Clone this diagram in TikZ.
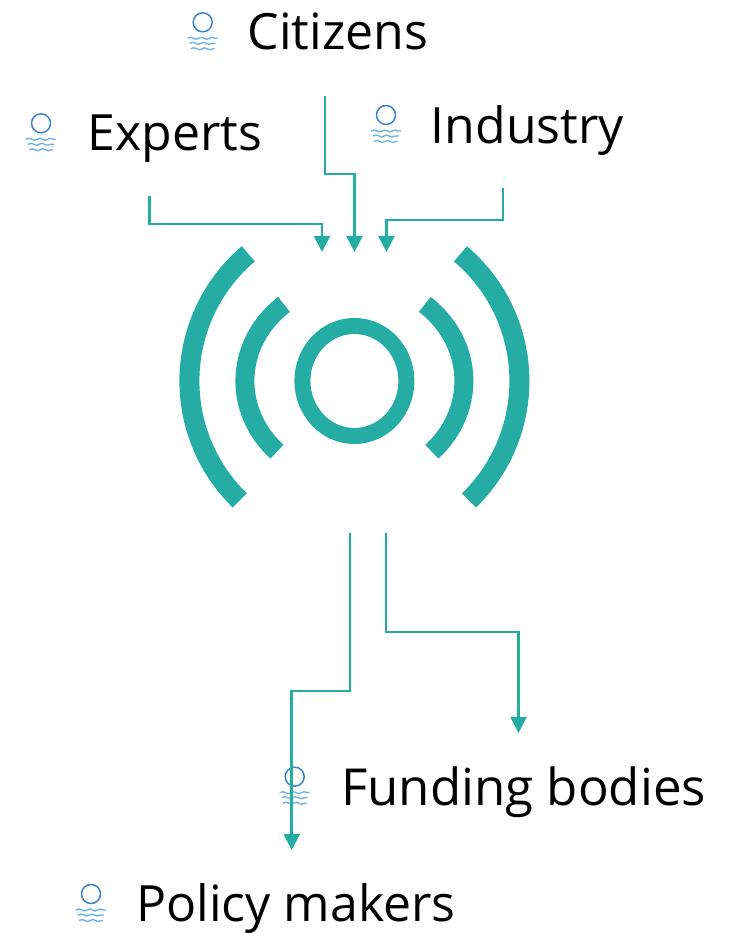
\documentclass[tikz,border=0pt]{standalone}
\usepackage{fontspec}
\setmainfont{Open Sans}
\usetikzlibrary{arrows.meta,decorations.pathmorphing}
\definecolor{teal1}{HTML}{24ACA5}
\definecolor{ringblue}{HTML}{3C85C6}
\definecolor{waveblue}{HTML}{6FB5E6}
\tikzset{
    flow/.style={teal1, line width=2.5pt, -{Triangle[length=16pt,width=16pt]}},
    wave/.style={waveblue, line width=1.4pt, decorate, decoration={snake, segment length=10.5pt, amplitude=1pt}},
    label text/.style={anchor=base west, inner sep=0pt, font=\fontsize{50}{56}\selectfont},
    sunicon/.pic={
        \draw[ringblue, line width=1.5pt] (0,0) circle (9.5pt);
        \draw[wave] (-15,-16) -- (15,-16);
        \draw[wave] (-13,-21) -- (13,-21);
        \draw[wave] (-12,-26.5) -- (12,-26.5);
    }
}
\begin{document}
\begin{tikzpicture}[x=1pt, y=1pt]
    \useasboundingbox (0,0) rectangle (733,933);

    \pic at (202.7,910.7) {sunicon};
    \pic at (41,809.7) {sunicon};
    \pic at (386,818) {sunicon};
    \pic at (294.7,156.3) {sunicon};
    \pic at (91,39) {sunicon};

    \node (citizens)[label text] at (247.5,883) {Citizens};
    \node (experts)[label text] at (87.5,782) {Experts};
    \node (industry)[label text] at (430.5,789) {Industry};
    \node (funding)[label text, font=\fontsize{51}{56}\selectfont] at (341,127) {Funding bodies};
    \node (policy)[label text] at (136,11) {Policy makers};

    \coordinate (c) at (354.4,552);
    \draw[teal1, line width=16pt] (c) ellipse [x radius=52pt, y radius=55pt];
    \draw[teal1, line width=19pt] ([shift={(130:109.5pt and 100pt)}]c) arc[start angle=130, end angle=225, x radius=109.5pt, y radius=100pt];
    \draw[teal1, line width=19pt] ([shift={(50:109.5pt and 100pt)}]c) arc[start angle=50, end angle=-45, x radius=109.5pt, y radius=100pt];
    \draw[teal1, line width=20pt] ([shift={(130:165pt and 166pt)}]c) arc[start angle=130, end angle=226, x radius=165pt, y radius=166pt];
    \draw[teal1, line width=20pt] ([shift={(50:165pt and 166pt)}]c) arc[start angle=50, end angle=-46, x radius=165pt, y radius=166pt];

    \coordinate (citizensout) at (325,837);
    \coordinate (citizensin) at (354.5,681);
    \coordinate (expertsout) at (149.3,737);
    \coordinate (expertsin) at (322,681);
    \coordinate (industryout) at (503,745);
    \coordinate (industryin) at (386.5,681);
    \coordinate (policyout) at (350,400);
    \coordinate (policyin) at (291.7,83);
    \coordinate (fundingout) at (386,400);
    \coordinate (fundingin) at (518.5,200);

    \draw[flow] (citizensout) -- ++(0,-78) -| (citizensin);
    \draw[flow] (expertsout) -- ++(0,-28) -| (expertsin);
    \draw[flow] (industryout) -- ++(0,-32) -| (industryin);
    \draw[flow] (policyout) -- ++(0,-158) -| (policyin);
    \draw[flow] (fundingout) -- ++(0,-99) -| (fundingin);
\end{tikzpicture}
\end{document}
